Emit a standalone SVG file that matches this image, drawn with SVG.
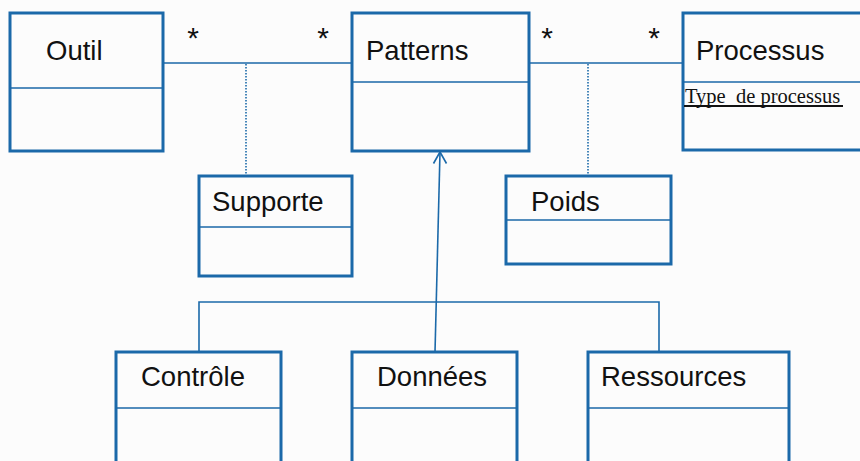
<svg xmlns="http://www.w3.org/2000/svg" width="860" height="461" viewBox="0 0 860 461">
  <style>
    .box { fill: none; stroke: #1b69a9; stroke-width: 3; }
    .sep { stroke: #1b69a9; stroke-width: 1.6; }
    .name { font-family: "Liberation Sans", Arial, sans-serif; font-size: 27.5px; fill: #111; }
    .mult { font-family: "Liberation Sans", Arial, sans-serif; font-size: 30px; fill: #111; text-anchor: middle; }
    .attr { font-family: "Liberation Serif", "Times New Roman", serif; font-size: 20.5px; fill: #111; white-space: pre; }
    .underline { stroke: #111; stroke-width: 2; }
    .link { fill: none; stroke: #1b69a9; stroke-width: 1.6; }
    .assoc-class { fill: none; stroke: #1b69a9; stroke-width: 1.6; stroke-dasharray: 1.5 1.5; }
  </style>
  <rect width="860" height="461" fill="#fcfcfc"/>

  <g id="connectors">
    <!-- associations -->
    <line class="link" x1="163" y1="63" x2="352" y2="63"/>
    <line class="link" x1="529" y1="63" x2="682" y2="63"/>
    <!-- association-class links -->
    <line class="assoc-class" x1="246" y1="64" x2="246" y2="176"/>
    <line class="assoc-class" x1="588" y1="64" x2="588" y2="176"/>
    <!-- generalisation tree -->
    <polyline class="link" points="199,352 199,302 659,302 659,352"/>
    <line class="link" x1="435" y1="352" x2="440" y2="152"/>
    <polyline class="link" points="433.5,163.5 440,152 446.5,163.5" stroke-width="2.6"/>
    <!-- multiplicities -->
    <text class="mult" x="193" y="48">*</text>
    <text class="mult" x="323" y="48">*</text>
    <text class="mult" x="547" y="48">*</text>
    <text class="mult" x="654" y="48">*</text>
  </g>

  <g id="outil">
    <rect class="box" x="10" y="13" width="153" height="138"/>
    <line class="sep" x1="10" y1="88" x2="163" y2="88"/>
    <text class="name" x="46" y="60">Outil</text>
  </g>

  <g id="patterns">
    <rect class="box" x="352" y="13" width="177" height="138"/>
    <line class="sep" x1="352" y1="82" x2="529" y2="82"/>
    <text class="name" x="366" y="60">Patterns</text>
  </g>

  <g id="processus">
    <rect class="box" x="683" y="13" width="190" height="137"/>
    <line class="sep" x1="683" y1="82" x2="873" y2="82"/>
    <text class="name" x="696" y="60">Processus</text>
    <text class="attr" x="685" y="103" xml:space="preserve">Type  de processus</text>
    <line class="underline" x1="684" y1="106" x2="843" y2="106"/>
  </g>

  <g id="supporte">
    <rect class="box" x="199" y="176" width="153" height="100"/>
    <line class="sep" x1="199" y1="227" x2="352" y2="227"/>
    <text class="name" x="212" y="211">Supporte</text>
  </g>

  <g id="poids">
    <rect class="box" x="506" y="176" width="165" height="88"/>
    <line class="sep" x1="506" y1="220" x2="671" y2="220"/>
    <text class="name" x="531" y="211">Poids</text>
  </g>

  <g id="controle">
    <rect class="box" x="116" y="352" width="165" height="120"/>
    <line class="sep" x1="116" y1="408" x2="281" y2="408"/>
    <text class="name" x="141" y="386">Contrôle</text>
  </g>

  <g id="donnees">
    <rect class="box" x="352" y="352" width="165" height="120"/>
    <line class="sep" x1="352" y1="408" x2="517" y2="408"/>
    <text class="name" x="377" y="386">Données</text>
  </g>

  <g id="ressources">
    <rect class="box" x="588" y="352" width="201" height="120"/>
    <line class="sep" x1="588" y1="408" x2="789" y2="408"/>
    <text class="name" x="601" y="386">Ressources</text>
  </g>
</svg>
